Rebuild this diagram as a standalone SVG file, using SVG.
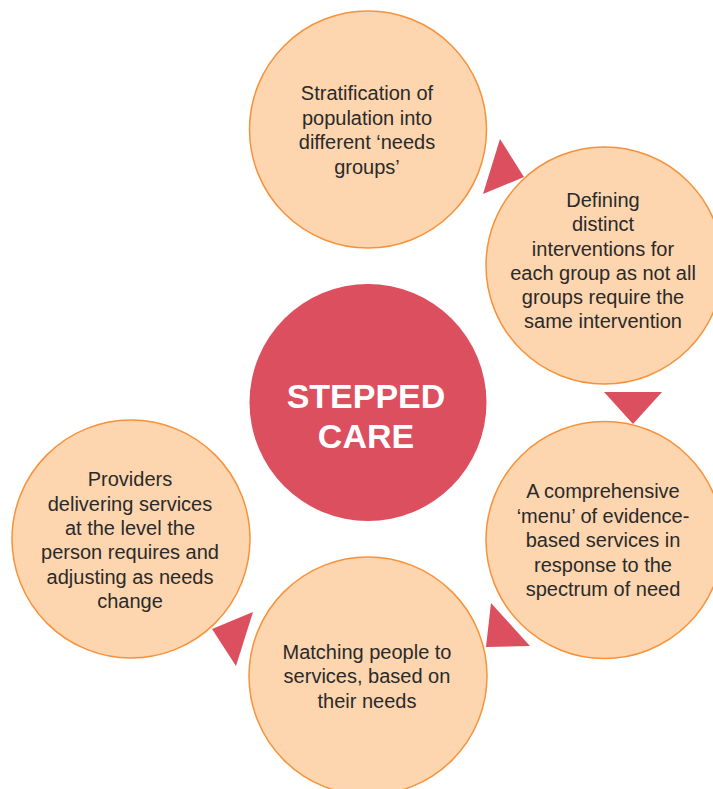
<svg xmlns="http://www.w3.org/2000/svg" width="713" height="789" viewBox="0 0 713 789">
<style>
.step{fill:#FDD5AE;stroke:#F7923A;stroke-width:1.5}
.hub{fill:#DC4F5F}
.arrow{fill:#DC4F5F}
.t{font-family:"Liberation Sans",Arial,sans-serif;font-size:20px;fill:#2a2a2a;text-anchor:middle}
.h{font-family:"Liberation Sans",Arial,sans-serif;font-size:34px;font-weight:bold;fill:#ffffff;text-anchor:middle}
</style>
<rect width="713" height="789" fill="#ffffff"/>
<g id="stratification">
<circle class="step" cx="368" cy="129.5" r="118.5"/>
<text class="t"><tspan x="367" y="100">Stratification of</tspan><tspan x="367" y="124.5">population into</tspan><tspan x="367" y="149">different ‘needs</tspan><tspan x="367" y="173.5">groups’</tspan></text>
</g>
<g id="defining">
<circle class="step" cx="604.5" cy="265.5" r="118.5"/>
<text class="t"><tspan x="603" y="207">Defining</tspan><tspan x="603" y="231">distinct</tspan><tspan x="603" y="255.5">interventions for</tspan><tspan x="603" y="279.5">each group as not all</tspan><tspan x="603" y="304">groups require the</tspan><tspan x="603" y="328">same intervention</tspan></text>
</g>
<g id="menu">
<circle class="step" cx="604.5" cy="540" r="118.5"/>
<text class="t"><tspan x="603" y="498">A comprehensive</tspan><tspan x="603" y="522.5">‘menu’ of evidence-</tspan><tspan x="603" y="547">based services in</tspan><tspan x="603" y="571.5">response to the</tspan><tspan x="603" y="596">spectrum of need</tspan></text>
</g>
<g id="matching">
<circle class="step" cx="368" cy="676" r="119"/>
<text class="t"><tspan x="367" y="659">Matching people to</tspan><tspan x="367" y="683">services, based on</tspan><tspan x="367" y="707.5">their needs</tspan></text>
</g>
<g id="providers">
<circle class="step" cx="131" cy="539" r="119"/>
<text class="t"><tspan x="130" y="486">Providers</tspan><tspan x="130" y="510.5">delivering services</tspan><tspan x="130" y="535">at the level the</tspan><tspan x="130" y="559">person requires and</tspan><tspan x="130" y="583.5">adjusting as needs</tspan><tspan x="130" y="608">change</tspan></text>
</g>
<g id="stepped-care">
<circle class="hub" cx="368" cy="402.5" r="118.5"/>
<text class="h"><tspan x="366" y="408">STEPPED</tspan><tspan x="366" y="448">CARE</tspan></text>
</g>
<g id="connectors">
<polygon class="arrow" points="500,139 524,177 483,194"/>
<polygon class="arrow" points="604,392 662,392 633,424"/>
<polygon class="arrow" points="491,603 530,646 486,647"/>
<polygon class="arrow" points="212,629 253,612 236,666"/>
</g>
</svg>
